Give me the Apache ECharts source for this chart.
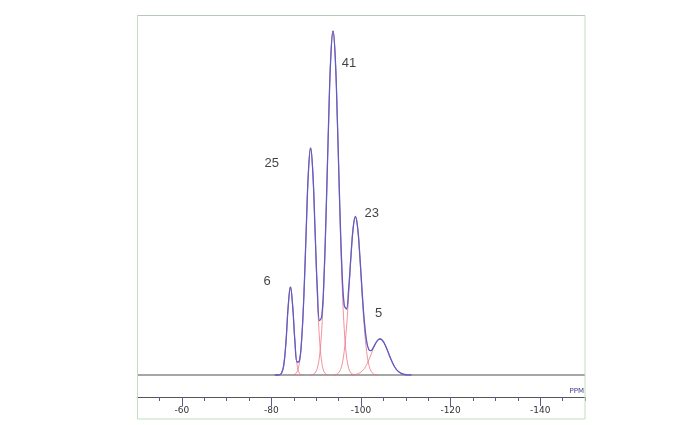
<!DOCTYPE html>
<html>
<head>
<meta charset="utf-8">
<script src="https://cdn.jsdelivr.net/npm/echarts@6/dist/echarts.min.js"></script>
<style>html,body{margin:0;padding:0;background:#fff}#c{width:680px;height:425px}</style>
</head>
<body>
<div id="c"></div>
<script>
// Deconvolution components (ppm, intensity)
var peakA = [[-81.25,0],[-81.75,0.2],[-82.25,1.7],[-82.75,9.6],[-83.25,32.9],[-83.75,68.8],[-84.25,88],[-84.75,68.8],[-85.25,32.9],[-85.75,9.6],[-86.25,1.7],[-86.75,0.2],[-87.25,0]];
var peakB = [[-84.75,0.1],[-85.25,0.75],[-85.75,3.4],[-86.25,12.3],[-86.75,35.1],[-87.25,79.4],[-87.75,142.3],[-88.25,202],[-88.75,227],[-89.25,202],[-89.75,142.3],[-90.25,79.4],[-90.75,35.1],[-91.25,12.3],[-91.75,3.4],[-92.25,0.75],[-92.75,0.1]];
var peakC = [[-88.75,0.1],[-89.25,0.5],[-89.75,2.0],[-90.25,6.8],[-90.75,19.2],[-91.25,46.4],[-91.75,95.5],[-92.25,167.3],[-92.75,249.7],[-93.25,317.5],[-93.75,344],[-94.25,317.5],[-94.75,249.7],[-95.25,167.3],[-95.75,95.5],[-96.25,46.4],[-96.75,19.2],[-97.25,6.8],[-97.75,2.0],[-98.25,0.5],[-98.75,0.1]];
var peakD = [[-93.75,0.1],[-94.25,0.3],[-94.75,1.2],[-95.25,3.8],[-95.75,10.2],[-96.25,23.6],[-96.75,46.8],[-97.25,79.7],[-97.75,116.6],[-98.25,146.4],[-98.75,158],[-99.25,146.4],[-99.75,116.6],[-100.25,79.7],[-100.75,46.8],[-101.25,23.6],[-101.75,10.2],[-102.25,3.8],[-102.75,1.2],[-103.25,0.3],[-103.75,0.1]];
var peakE = [[-97.75,0.1],[-98.25,0.2],[-98.75,0.5],[-99.25,1.1],[-99.75,2.2],[-100.25,3.9],[-100.75,6.5],[-101.25,10.3],[-101.75,15.1],[-102.25,20.6],[-102.75,26.3],[-103.25,31.3],[-103.75,34.8],[-104.25,36],[-104.75,34.8],[-105.25,31.3],[-105.75,26.3],[-106.25,20.6],[-106.75,15.1],[-107.25,10.3],[-107.75,6.5],[-108.25,3.9],[-108.75,2.2],[-109.25,1.1],[-109.75,0.5],[-110.25,0.2],[-110.75,0.1]];
// Measured spectrum / fitted envelope
var spectrum = [[-80.75,0],[-81.25,0],[-81.75,0.2],[-82.25,1.7],[-82.75,9.6],[-83.25,32.9],[-83.75,68.8],[-84.25,88.0],[-84.75,68.9],[-85.25,33.7],[-85.75,13.0],[-86.25,14.0],[-86.75,35.3],[-87.25,79.4],[-87.75,142.3],[-88.25,202.0],[-88.75,227.1],[-89.25,202.5],[-89.75,144.3],[-90.25,86.2],[-90.75,54.3],[-91.25,58.7],[-91.75,98.9],[-92.25,168.1],[-92.75,249.8],[-93.25,317.5],[-93.75,344.1],[-94.25,317.8],[-94.75,250.9],[-95.25,171.1],[-95.75,105.7],[-96.25,70.0],[-96.75,66.0],[-97.25,86.5],[-97.75,118.7],[-98.25,147.2],[-98.75,158.6],[-99.25,147.5],[-99.75,118.8],[-100.25,83.6],[-100.75,53.3],[-101.25,33.9],[-101.75,25.3],[-102.25,24.4],[-102.75,27.5],[-103.25,31.6],[-103.75,34.9],[-104.25,36.0],[-104.75,34.8],[-105.25,31.3],[-105.75,26.3],[-106.25,20.6],[-106.75,15.1],[-107.25,10.3],[-107.75,6.5],[-108.25,3.9],[-108.75,2.2],[-109.25,1.1],[-109.75,0.5],[-110.25,0.2],[-110.75,0.1],[-111.25,0]];
var baseline = [[-50,0],[-150,0]];
// Peak area labels (%) and where they sit
var labelText = ['6','25','41','23','5'];
var labelPpm = [-79.06,-80.07,-97.32,-102.39,-103.95];
var labelVal = [94,212,312,162,62];

var labelData = labelText.map(function(t,i){return {value:[labelPpm[i],labelVal[i]], name:t};});
var compStyle = {color:'#ef6f80', width:0.9, opacity:0.85};
function comp(d){return {type:'line', data:d, smooth:0.4, symbol:'none', lineStyle:compStyle, z:3, silent:true, animation:false};}

var chart = echarts.init(document.getElementById('c'), null, {renderer:'canvas'});
chart.setOption({
  animation:false,
  backgroundColor:'#ffffff',
  grid:[
    {left:137, right:95, top:15, bottom:28},
    // scale grid: 10 ppm wider on each side so ticks can run every 20 from -160
    {left:92.2, right:50.2, top:15, bottom:28}
  ],
  xAxis:[{
    gridIndex:0, type:'value', min:-150, max:-50, inverse:true, show:false
  },{
    gridIndex:1, type:'value', min:-160, max:-40, interval:20, inverse:true, position:'bottom',
    axisLine:{show:true, onZero:false, lineStyle:{color:'#555', width:1.2}},
    axisTick:{show:true, length:9, lineStyle:{color:'#5a5a90'}},
    minorTick:{show:true, splitNumber:4, length:4, lineStyle:{color:'#5a5a90'}},
    axisLabel:{margin:9, fontSize:9, color:'#333', fontFamily:'DejaVu Sans', showMinLabel:false, showMaxLabel:false,
      formatter:function(v){return (v > -150 && v < -50) ? String(v) : '';}},
    splitLine:{show:false}
  }],
  yAxis:[{gridIndex:0, type:'value', min:-22, max:360, show:false},
         {gridIndex:1, type:'value', min:-22, max:360, show:false}],
  series:[
    {type:'line', data:baseline, symbol:'none', lineStyle:{color:'#a6a6a6', width:2}, z:1, silent:true},
    comp(peakA), comp(peakB), comp(peakC), comp(peakD), comp(peakE),
    {type:'line', data:spectrum, smooth:0.4, symbol:'none', lineStyle:{color:'#5a5ae0', width:1.3}, z:4, silent:true},
    {type:'line', data:spectrum, smooth:0.4, symbol:'none', lineStyle:{color:'#6a6a6a', width:0.6, opacity:0.6}, z:5, silent:true},
    {type:'scatter', data:labelData, symbolSize:0, z:6, silent:true,
      label:{show:true, position:'inside', formatter:function(p){return p.name;}, fontSize:13, color:'#111', fontFamily:'Liberation Sans'}}
  ],
  graphic:[
    {type:'rect', shape:{x:80, y:390, width:56.8, height:28}, style:{fill:'#ffffff'}, z:100, silent:true},
    {type:'rect', shape:{x:585.8, y:390, width:60, height:28}, style:{fill:'#ffffff'}, z:100, silent:true},
    {type:'rect', shape:{x:137.5, y:15.5, width:447.5, height:403.5}, style:{fill:'none', stroke:'#bfe0bf', lineWidth:1}, z:101, silent:true},
    {type:'line', shape:{x1:137.5, y1:15.5, x2:585, y2:15.5}, style:{stroke:'#b8c8b8', lineWidth:1}, z:101, silent:true},
    {type:'text', right:96, top:388, style:{text:'PPM', fontSize:7, fill:'#3a3a8a', fontFamily:'DejaVu Sans'}, z:101, silent:true}
  ]
});
</script>
</body>
</html>
